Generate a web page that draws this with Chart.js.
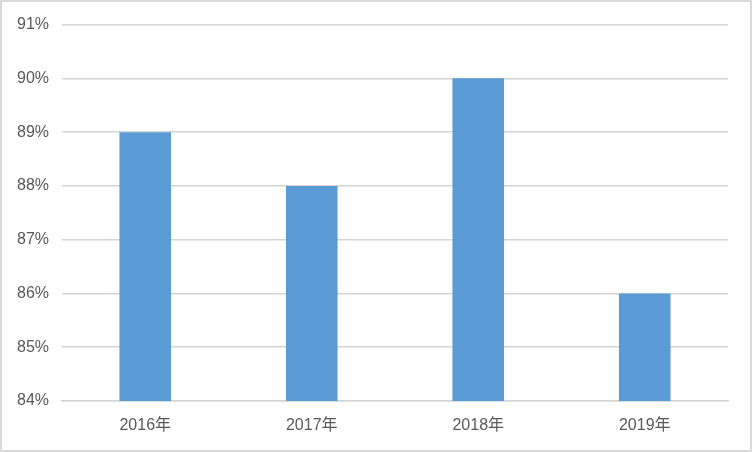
<!DOCTYPE html>
<html>
<head>
<meta charset="utf-8">
<script src="https://cdn.jsdelivr.net/npm/chart.js@4"></script>
<style>
    body { margin: 0; background: #fff; }
    #wrap { width: 752px; height: 452px; box-sizing: border-box; border: 2px solid #d9d9d9; }
    #wrap canvas { display: block; }
</style>
</head>
<body>
<div id="wrap"><canvas id="chart" width="748" height="448"></canvas></div>
<script>
const years = ['2016年', '2017年', '2018年', '2019年'];
const rates = [89, 88, 90, 86];
const yMin = 84;
const yMax = 91;

const font = { family: '"Liberation Sans", "Noto Sans CJK SC", sans-serif', size: 16 };

const ctx = document.getElementById('chart').getContext('2d');
new Chart(ctx, {
    type: 'bar',
    data: {
        labels: years,
        datasets: [{
            data: rates,
            backgroundColor: '#5b9bd5',
            categoryPercentage: 1,
            barPercentage: 0.31
        }]
    },
    options: {
        responsive: false,
        animation: false,
        layout: { padding: { top: 22, right: 22, left: 0, bottom: 0 } },
        plugins: { legend: { display: false }, tooltip: { enabled: false } },
        scales: {
            x: {
                grid: { display: false, drawTicks: false },
                border: { color: '#d4d4d4', width: 1.5 },
                ticks: { color: '#595959', font: font, padding: 15, maxRotation: 0 },
                afterFit: (axis) => { axis.height = 49; }
            },
            y: {
                min: yMin,
                max: yMax,
                grid: { color: '#d4d4d4', lineWidth: 1.5, drawTicks: false },
                border: { display: false },
                ticks: {
                    stepSize: 1,
                    color: '#595959',
                    font: font,
                    padding: 13,
                    callback: (v) => v + '%'
                },
                afterFit: (axis) => { axis.width = 60; }
            }
        }
    }
});
</script>
</body>
</html>
